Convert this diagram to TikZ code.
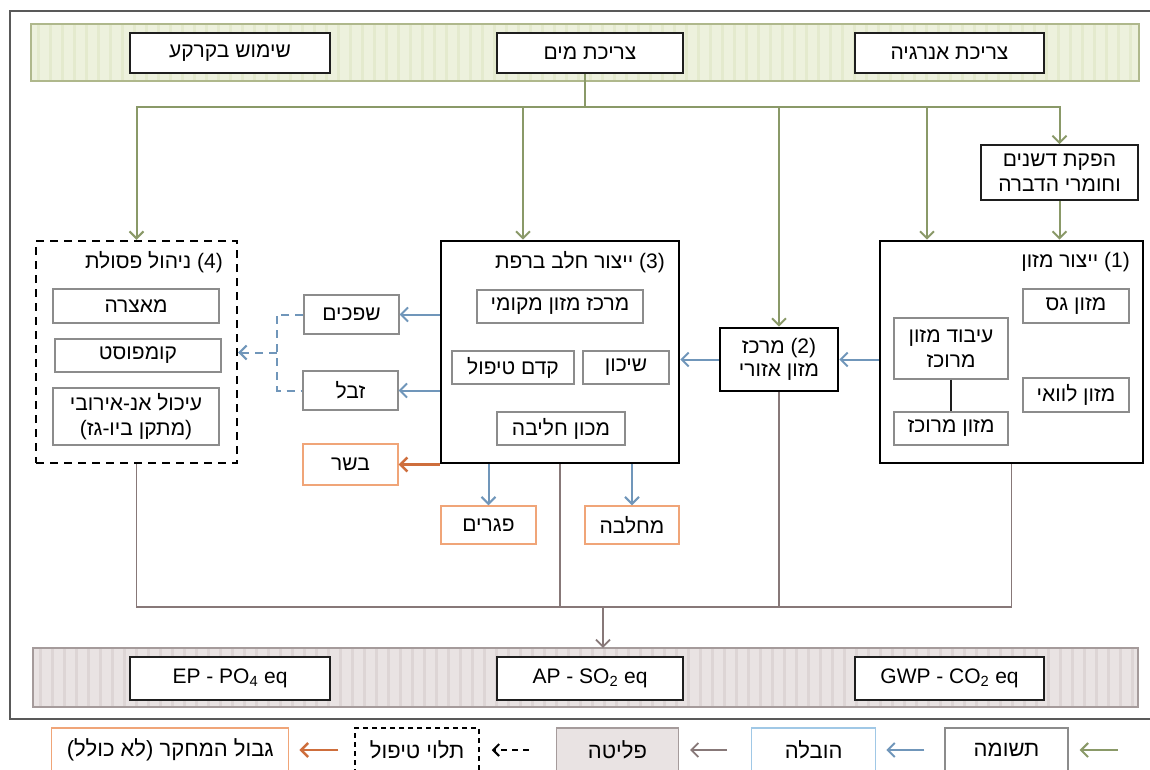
\documentclass[tikz,border=0pt]{standalone}
\usepackage{fontspec}
\setmainfont{Liberation Sans}
\newfontfamily\hebfont[Script=Hebrew]{Liberation Sans}
\TeXXeTstate=1
\usepackage{tikz}
\usetikzlibrary{arrows.meta, positioning, calc}
\newcommand{\heb}[1]{{\hebfont\beginR #1\endR}}
\definecolor{mydark}{RGB}{30,30,30}
\definecolor{mygreen}{RGB}{138,153,104}
\definecolor{myblue}{RGB}{112,150,186}
\definecolor{myorange}{RGB}{206,110,60}
\definecolor{orangeframe}{RGB}{240,165,120}
\definecolor{mybrown}{RGB}{135,120,120}
\definecolor{subgray}{RGB}{140,140,140}
\definecolor{greenfill}{RGB}{237,241,221}
\definecolor{greenstripe}{RGB}{228,234,206}
\definecolor{greenframe}{RGB}{175,184,140}
\definecolor{grayfill}{RGB}{233,227,227}
\definecolor{graystripe}{RGB}{221,213,213}
\definecolor{grayframe}{RGB}{165,155,155}
\definecolor{lightblueframe}{RGB}{160,200,230}
\tikzset{
  topbox/.style={rectangle, draw=mydark, fill=white, line width=1.8pt,
    minimum height=40pt, inner sep=2pt},
  mainbox/.style={rectangle, draw=black, fill=white, line width=2.6pt},
  wastebox/.style={rectangle, draw=black, fill=white, line width=2.4pt,
    dash pattern=on 8pt off 6pt},
  subbox/.style={rectangle, draw=subgray, fill=white, line width=1.2pt,
    inner sep=2pt, align=center},
  outbox/.style={rectangle, draw=orangeframe, fill=white, line width=1.4pt,
    inner sep=2pt},
  titletext/.style={anchor=east, inner sep=0pt},
  legbox/.style={rectangle, minimum height=44pt, line width=1.3pt, inner sep=2pt,
    font=\fontsize{22}{26}\selectfont},
  garrow/.style={-{Straight Barb[length=7pt,width=14pt]}, line width=2pt, color=mygreen},
  gline/.style={line width=2pt, color=mygreen},
  barrow/.style={-{Straight Barb[length=7pt,width=14pt]}, line width=2pt, color=myblue},
  bdash/.style={line width=2pt, color=myblue, dash pattern=on 8pt off 6pt},
  oarrow/.style={-{Straight Barb[length=7pt,width=14pt]}, line width=2.4pt, color=myorange},
  eline/.style={line width=1.8pt, color=mybrown},
  earrow/.style={-{Straight Barb[length=7pt,width=14pt]}, line width=1.8pt, color=mybrown}
}

\begin{document}
\begin{tikzpicture}[x=1pt, y=-1pt, font=\fontsize{21}{25}\selectfont]
  \useasboundingbox (0,0) rectangle (1150,769);
  \clip (0,0) rectangle (1150,769);
  \draw[line width=1.5pt, color=black!65] (10,11) rectangle (1170,719);

  % ── Inputs band ────────────────────────────────────────────────────────────
  \node[rectangle, fill=greenfill, minimum width=1108pt, minimum height=57pt] (inband) at (585,52.5) {};
  \foreach \x in {38,50,...,1132}
    \draw[line width=3pt, color=greenstripe] (\x,25) -- (\x,80);
  \draw[line width=1.6pt, color=greenframe] (inband.north west) rectangle (inband.south east);
  \node[topbox, minimum width=200pt] (land) at (230,53) {\heb{שימוש בקרקע}};
  \node[topbox, minimum width=186pt] (water) at (590,53) {\heb{צריכת מים}};
  \node[topbox, minimum width=189pt] (energy) at (949.5,53) {\heb{צריכת אנרגיה}};

  \node[topbox, minimum width=157pt, minimum height=55pt, align=center] (fert) at (1059.5,172.5)
    {\heb{הפקת דשנים}\\\heb{וחומרי הדברה}};

  % ── (1) food production ────────────────────────────────────────────────────
  \node[mainbox, minimum width=263pt, minimum height=222pt] (food) at (1011.5,352) {};
  \node[titletext] at (1130,262) {\heb{(1) ייצור מזון}};
  \node[subbox, minimum width=106pt, minimum height=34pt] (rough) at (1076,306) {\heb{מזון גס}};
  \node[subbox, minimum width=106pt, minimum height=34pt] (byprod) at (1076,395) {\heb{מזון לוואי}};
  \node[subbox, minimum width=114pt, minimum height=61pt] (process) at (951,348.5)
    {\heb{עיבוד מזון}\\\heb{מרוכז}};
  \node[subbox, minimum width=114pt, minimum height=33pt] (concent) at (951,428.5) {\heb{מזון מרוכז}};
  \draw[line width=1.5pt, color=mydark] (process.south) -- (concent.north);

  % ── (2) regional feed centre ───────────────────────────────────────────────
  \node[mainbox, minimum width=118pt, minimum height=63pt, align=center, inner sep=1pt,
    font=\fontsize{21}{23}\selectfont] (region) at (779,359.5)
    {\heb{(2) מרכז}\\\heb{מזון אזורי}};

  % ── (3) dairy farm ─────────────────────────────────────────────────────────
  \node[mainbox, minimum width=238pt, minimum height=222pt] (dairy) at (560,352) {};
  \node[titletext] at (665,262) {\heb{(3) ייצור חלב ברפת}};
  \node[subbox, minimum width=166pt, minimum height=33pt] (local) at (560,306.5) {\heb{מרכז מזון מקומי}};
  \node[subbox, minimum width=122pt, minimum height=33pt] (pretreat) at (513,367.5) {\heb{קדם טיפול}};
  \node[subbox, minimum width=86pt, minimum height=33pt] (housing) at (626,367.5) {\heb{שיכון}};
  \node[subbox, minimum width=128pt, minimum height=33pt] (milking) at (561,428.5) {\heb{מכון חליבה}};

  % ── (4) waste management ───────────────────────────────────────────────────
  \node[wastebox, minimum width=201pt, minimum height=222pt] (waste) at (136.5,352) {};
  \node[titletext] at (223,262) {\heb{(4) ניהול פסולת}};
  \node[subbox, minimum width=166pt, minimum height=34pt] (lagoon) at (136,306) {\heb{מאצרה}};
  \node[subbox, minimum width=166pt, minimum height=33pt] (compost) at (138,355.5) {\heb{קומפוסט}};
  \node[subbox, minimum width=166pt, minimum height=57pt] (digest) at (136,416.5)
    {\heb{עיכול אנ-אירובי}\\\heb{(מתקן ביו-גז)}};

  % ── farm outputs ───────────────────────────────────────────────────────────
  \node[subbox, minimum width=95pt, minimum height=39pt] (wastew) at (351.5,314.5) {\heb{שפכים}};
  \node[subbox, minimum width=95pt, minimum height=39pt] (manure) at (350.5,390.5) {\heb{זבל}};
  \node[outbox, minimum width=95pt, minimum height=41pt] (meat) at (350.5,464.5) {\heb{בשר}};
  \node[outbox, minimum width=95pt, minimum height=38pt] (carcass) at (488.5,525) {\heb{פגרים}};
  \node[outbox, minimum width=94pt, minimum height=38pt] (dairyplant) at (632,525) {\heb{מחלבה}};

  % ── input flows ────────────────────────────────────────────────────────────
  \coordinate (gsplit) at (585,107);
  \coordinate (g3) at (523,107);
  \coordinate (g1) at (927,107);
  \draw[gline] (gsplit |- water.south) -- (gsplit);
  \draw[garrow] (gsplit) -| (waste.north);
  \draw[garrow] (gsplit) -| (fert.north);
  \draw[garrow] (g3) -- (g3 |- dairy.north);
  \draw[garrow] (gsplit -| region.north) -- (region.north);
  \draw[garrow] (g1) -- (g1 |- food.north);
  \draw[garrow] (fert.south) -- (fert.south |- food.north);

  % ── transport flows ────────────────────────────────────────────────────────
  \draw[barrow] (food.west |- region.east) -- (region.east);
  \draw[barrow] (region.west) -- (region.west -| dairy.east);
  \draw[barrow] (dairy.west |- wastew.east) -- (wastew.east);
  \draw[barrow] (dairy.west |- manure.east) -- (manure.east);
  \draw[barrow] (dairy.south -| carcass.north) -- (carcass.north);
  \draw[barrow] (dairy.south -| dairyplant.north) -- (dairyplant.north);
  \draw[oarrow] (dairy.west |- meat.east) -- (meat.east);
  \coordinate (djoin) at (277,352.5);
  \draw[bdash] (wastew.west) -| (djoin) |- (manure.west);
  \draw[bdash, -{Straight Barb[length=7pt,width=14pt]}] (djoin) -- (djoin -| waste.east);

  % ── emissions band ─────────────────────────────────────────────────────────
  \node[rectangle, fill=grayfill, minimum width=1105pt, minimum height=59pt] (outband) at (585.5,677.5) {};
  \foreach \x in {40,52,...,1132}
    \draw[line width=3pt, color=graystripe] (\x,649) -- (\x,706);
  \draw[line width=1.6pt, color=grayframe] (outband.north west) rectangle (outband.south east);
  \node[topbox, minimum width=200pt, minimum height=43pt] (ep) at (230,678.5) {EP - PO\textsubscript{4} eq};
  \node[topbox, minimum width=186pt, minimum height=43pt] (ap) at (590,678.5) {AP - SO\textsubscript{2} eq};
  \node[topbox, minimum width=189pt, minimum height=43pt] (gwp) at (949.5,678.5) {GWP - CO\textsubscript{2} eq};

  \coordinate (ejoin) at (603,607);
  \draw[eline] (waste.south) |- (ejoin);
  \draw[eline] (food.south) |- (ejoin);
  \draw[eline] (dairy.south) -- (dairy.south |- ejoin);
  \draw[eline] (region.south) -- (region.south |- ejoin);
  \draw[earrow] (ejoin) -- (ejoin |- outband.north);

  % ── legend ─────────────────────────────────────────────────────────────────
  \node[legbox, draw=subgray, fill=white, minimum width=123pt] (lin) at (1006.5,750) {\heb{תשומה}};
  \node[legbox, draw=lightblueframe, fill=white, minimum width=124pt, left=68pt of lin] (ltrans) {\heb{הובלה}};
  \node[legbox, draw=grayframe, fill=grayfill, minimum width=122pt, left=72pt of ltrans] (lemit) {\heb{פליטה}};
  \node[legbox, draw=black, fill=white, minimum width=124pt, dash pattern=on 5pt off 4pt,
    left=76pt of lemit] (ldep) {\heb{תלוי טיפול}};
  \node[legbox, draw=orangeframe, fill=white, minimum width=237pt, left=65pt of ldep] (lbound)
    {\heb{גבול המחקר (לא כולל)}};
  \draw[garrow] ([xshift=49pt]lin.east) -- ([xshift=11pt]lin.east);
  \draw[barrow] ([xshift=-20pt]lin.west) -- ([xshift=10pt]ltrans.east);
  \draw[earrow] ([xshift=-24pt]ltrans.west) -- ([xshift=11pt]lemit.east);
  \draw[line width=2pt, dash pattern=on 6pt off 5pt, -{Straight Barb[length=6pt,width=12pt]}]
    ([xshift=-27pt]lemit.west) -- ([xshift=12pt]ldep.east);
  \draw[oarrow] ([xshift=-16pt]ldep.west) -- ([xshift=10pt]lbound.east);
\end{tikzpicture}
\end{document}
